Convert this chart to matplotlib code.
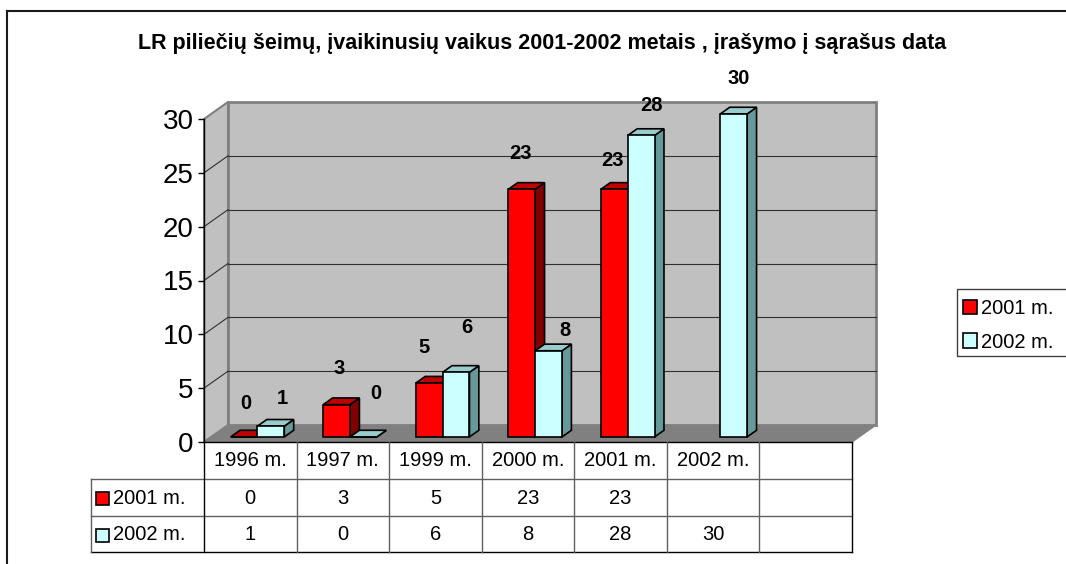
import matplotlib
matplotlib.use('Agg')
import matplotlib.pyplot as plt
import matplotlib.transforms as mtransforms
from matplotlib.patches import Polygon, Rectangle, Patch
from matplotlib.lines import Line2D

plt.rcParams['font.family'] = ['Liberation Sans', 'DejaVu Sans']

title = 'LR piliečių šeimų, įvaikinusių vaikus 2001-2002 metais , įrašymo į sąrašus data'
categories = ['1996 m.', '1997 m.', '1999 m.', '2000 m.', '2001 m.', '2002 m.', '']
series_names = ['2001 m.', '2002 m.']
vals_2001 = [0, 3, 5, 23, 23, None, None]
vals_2002 = [1, 0, 6, 8, 28, 30, None]
y_ticks = [0, 5, 10, 15, 20, 25, 30]

# colours of the 3d faces: front, top, side
red_faces = ('#FF0000', '#C00000', '#800000')
cyan_faces = ('#CCFFFF', '#99CCCC', '#669999')

# hand placed data label nudges in px (Excel moved them around)
lbl_dx = [[2, 2, -5, -1, -2, 0, 0], [11, 12, 11, 16, 10, 5, 0]]
lbl_dy = [[33, 36, 36, 36, 29, 0, 0], [28, 43, 45, 20, 30, 35, 0]]

W, H = 1066, 564
fig = plt.figure(figsize=(W / 100, H / 100), dpi=100)
pix = mtransforms.Affine2D().scale(1, -1).translate(0, H)

# plotting area (front plane of the 3d box)
x0p, x1p, y0p, y1p = 204, 852, 442, 119
ax = fig.add_axes([x0p / W, 1 - y0p / H, (x1p - x0p) / W, (y0p - y1p) / H])
n = len(categories)
ax.set_xlim(0, n)
ax.set_ylim(0, 30)
for s in ['top', 'right', 'bottom']:
    ax.spines[s].set_visible(False)
ax.spines['left'].set_color('black')
ax.spines['left'].set_linewidth(1)
ax.spines['left'].set_zorder(20)
ax.set_xticks([])
ax.set_yticks(y_ticks)
ax.tick_params(axis='y', direction='out', length=4.5, width=1, labelsize=20, pad=3)
ax.patch.set_visible(False)

# depth of the box in data units
DX = 24 / ((x1p - x0p) / n)
DY = 17 / ((y0p - y1p) / 30)

floor = Polygon([(0, 0), (n, 0), (n + DX, DY), (DX, DY)], closed=True,
                fc='#808080', ec='#808080', lw=1, clip_on=False, zorder=1)
ax.add_patch(floor)
side_wall = Polygon([(0, 0), (DX, DY), (DX, 30 + DY), (0, 30)], closed=True,
                    fc='#C0C0C0', ec='#808080', lw=1.5, clip_on=False, zorder=1)
ax.add_patch(side_wall)
back_wall = Rectangle((DX, DY), n, 30, fc='#C0C0C0', ec='#808080', lw=2,
                      clip_on=False, zorder=1)
ax.add_patch(back_wall)
for v in y_ticks[1:-1]:
    ax.plot([DX, n + DX], [v + DY, v + DY], color='#303030', lw=0.8, zorder=2, clip_on=False)
    ax.plot([0, DX], [v, v + DY], color='#303030', lw=0.8, zorder=2, clip_on=False)

# bars
bw = 0.29
f0, f1 = 0.30, 0.69
z = 5
for i in range(n):
    for k, vals in enumerate([vals_2001, vals_2002]):
        v = vals[i]
        if v is None:
            continue
        faces = red_faces if k == 0 else cyan_faces
        xl = i + 0.5 - bw + k * bw + f0 * DX
        yb = f0 * DY
        bx = (f1 - f0) * DX
        by = (f1 - f0) * DY
        front = Rectangle((xl, yb), bw, v, fc=faces[0], ec='black', lw=1.2,
                          clip_on=False, zorder=z)
        top = Polygon([(xl, yb + v), (xl + bw, yb + v), (xl + bw + bx, yb + v + by),
                       (xl + bx, yb + v + by)], closed=True, fc=faces[1], ec='black',
                      lw=1.2, clip_on=False, zorder=z)
        side = Polygon([(xl + bw, yb), (xl + bw + bx, yb + by), (xl + bw + bx, yb + v + by),
                        (xl + bw, yb + v)], closed=True, fc=faces[2], ec='black',
                       lw=1.2, clip_on=False, zorder=z)
        for p in (side, top, front):
            ax.add_patch(p)
        z += 1
        ax.annotate(str(v), xy=(xl + bw / 2, yb + v),
                    xytext=(lbl_dx[k][i] * 0.72, lbl_dy[k][i] * 0.72),
                    textcoords='offset points', ha='center', va='center',
                    fontsize=14.5, fontweight='bold', annotation_clip=False, zorder=30)

# data table under the chart
tb = mtransforms.blended_transform_factory(ax.transData, pix)
xl_tab = (91 - x0p) / ((x1p - x0p) / n)
inner = '#606060'
for yy, col, xs in [(479, inner, xl_tab), (516, inner, xl_tab), (552, 'black', xl_tab),
                    (442, 'black', 0)]:
    fig.add_artist(Line2D([xs, n], [yy, yy], color=col, lw=1, transform=tb))
for i in range(n + 1):
    col = 'black' if i in (0, n) else inner
    fig.add_artist(Line2D([i, i], [442, 552], color=col, lw=1, transform=tb))
fig.add_artist(Line2D([xl_tab, xl_tab], [479, 552], color=inner, lw=1, transform=tb))

for i, c in enumerate(categories):
    fig.text(i + 0.5, 461, c, transform=tb, ha='center', va='center', fontsize=14.5)
    for k, vals in enumerate([vals_2001, vals_2002]):
        if vals[i] is not None:
            fig.text(i + 0.5, 498 + k * 37, str(vals[i]), transform=tb,
                     ha='center', va='center', fontsize=14.5)
for k, name in enumerate(series_names):
    faces = red_faces if k == 0 else cyan_faces
    yc = 498 + k * 37
    fig.add_artist(Rectangle((96, yc + 7), 13, -13, transform=pix, fc=faces[0],
                             ec='black', lw=1.2))
    fig.text(113, yc, name, transform=pix, ha='left', va='center', fontsize=14.5)

# legend (its frame runs off the right edge, as in the original)
handles = [Patch(fc=red_faces[0], ec='black', lw=1.2), Patch(fc=cyan_faces[0], ec='black', lw=1.2)]
leg = fig.legend(handles, series_names, loc='upper left', bbox_to_anchor=(953, 289),
                 bbox_transform=pix, fontsize=14.5, frameon=False, borderpad=0.5,
                 borderaxespad=0, handlelength=0.7, handleheight=0.7,
                 handletextpad=0.2, labelspacing=0.72)
fig.add_artist(Rectangle((957, 356), 130, -67, transform=pix, fc='none',
                         ec='#404040', lw=1))

# title and outer chart frame
fig.text(542, 44, title, transform=pix, ha='center', va='center', fontsize=15.5,
         fontweight='bold')
fig.add_artist(Line2D([7, W + 5], [11, 11], color='#1a1a1a', lw=1.5, transform=pix))
fig.add_artist(Line2D([7, 7], [11, H + 5], color='#1a1a1a', lw=1.5, transform=pix))

fig.savefig('out.png', dpi=100)
